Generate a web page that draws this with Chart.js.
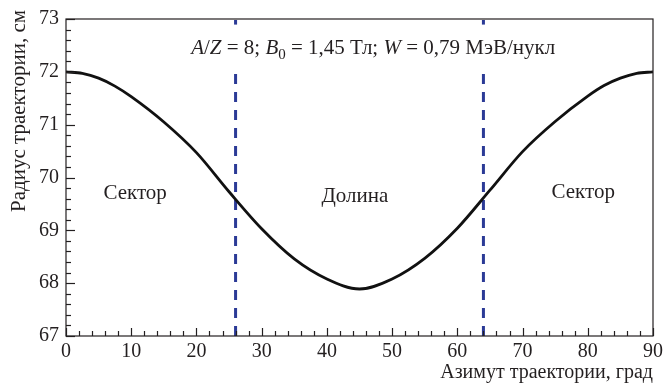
<!DOCTYPE html>
<html><head><meta charset="utf-8">
<script src="https://cdn.jsdelivr.net/npm/chart.js@4"></script>
<style>html,body{margin:0;padding:0;background:#fff}#w{width:665px;height:389px}</style>
</head><body><div id="w"><canvas id="c"></canvas></div>
<script>
const azimuth = [0,2.5,5,7.5,10,15,20,25,30,35,40,45,50,55,60,65,70,75,80,82.5,85,87.5,90];
const radius  = [72.00,71.97,71.88,71.73,71.53,71.05,70.47,69.73,69.03,68.46,68.08,67.89,68.08,68.47,69.04,69.76,70.49,71.06,71.54,71.74,71.88,71.97,72.00];
const boundaries = [26,64];
const xTicks = [0,10,20,30,40,50,60,70,80,90];
const yTicks = [67,68,69,70,71,72,73];
const regionLabels = [{x:10.6,y:69.7,t:'Сектор'},{x:44.3,y:69.64,t:'Долина'},{x:79.3,y:69.72,t:'Сектор'}];
const xTitle = 'Азимут траектории, град';
const yTitle = 'Радиус траектории, см';

const SERIF = '"Liberation Serif","DejaVu Serif",serif';
const ink = '#231f20';

const deco = {
  id:'deco',
  afterDatasetsDraw(ch){
    const {ctx, chartArea:a, scales:{x,y}} = ch;
    ctx.save();
    const F = 21;
    const parts = [
      ['A','italic '+F+'px '+SERIF,0],['/',F+'px '+SERIF,0],['Z','italic '+F+'px '+SERIF,0],[' = 8; ',F+'px '+SERIF,0],
      ['B','italic '+F+'px '+SERIF,0],['0','15px '+SERIF,6],[' = 1,45 Тл; ',F+'px '+SERIF,0],
      ['W','italic '+F+'px '+SERIF,0],[' = 0,79 МэВ/нукл',F+'px '+SERIF,0]
    ];
    let tw = 0;
    parts.forEach(p=>{ctx.font=p[1]; tw+=ctx.measureText(p[0]).width;});
    let cx = x.getPixelForValue(47.1) - tw/2;
    const cy = y.getPixelForValue(72.44);
    ctx.fillStyle = '#fff';
    ctx.fillRect(cx-4, cy-24, tw+8, 46);
    ctx.fillStyle = ink;
    ctx.textAlign='left'; ctx.textBaseline='middle';
    parts.forEach(p=>{ctx.font=p[1]; ctx.fillText(p[0],cx,cy+p[2]); cx+=ctx.measureText(p[0]).width;});

    ctx.strokeStyle = ink; ctx.lineWidth = 1.2;
    ctx.strokeRect(a.left, a.top, a.right-a.left, a.bottom-a.top);
    for(let v=0; v<=90; v+=2){
      const px = Math.round(x.getPixelForValue(v))+0.5;
      const L = v%10===0 ? 8 : 5;
      ctx.beginPath(); ctx.moveTo(px,a.bottom); ctx.lineTo(px,a.bottom-L); ctx.stroke();
    }
    for(let i=0;i<=30;i++){
      const v = 67 + i*0.2;
      const py = Math.round(y.getPixelForValue(v))+0.5;
      const L = i%5===0 ? 9 : 5;
      ctx.beginPath(); ctx.moveTo(a.left,py); ctx.lineTo(a.left+L,py); ctx.stroke();
    }
    ctx.font = '21px '+SERIF; ctx.textAlign='center'; ctx.textBaseline='middle';
    regionLabels.forEach(r=>ctx.fillText(r.t, x.getPixelForValue(r.x), y.getPixelForValue(r.y)));
    ctx.font = '20px '+SERIF; ctx.textAlign='right'; ctx.textBaseline='middle';
    ctx.fillText(xTitle, a.right, 373);
    ctx.save();
    ctx.translate(19, 111); ctx.rotate(-Math.PI/2);
    ctx.font = '21px '+SERIF; ctx.textAlign='center';
    ctx.fillText(yTitle, 0, 0);
    ctx.restore();
    ctx.restore();
  }
};

const datasets = [{
  data: azimuth.map((a,i)=>({x:a,y:radius[i]})),
  borderColor:'#111', borderWidth:2.8, pointRadius:0, cubicInterpolationMode:'monotone', fill:false, order:1
}];
boundaries.forEach(b=>datasets.push({
  data:[{x:b,y:67},{x:b,y:73}], borderColor:'#2b3a96', borderWidth:3, borderDash:[10,8], pointRadius:0, fill:false, order:2
}));

new Chart(document.getElementById('c'),{
  type:'line',
  data:{datasets},
  options:{
    responsive:true, maintainAspectRatio:false, animation:false,
    layout:{padding:{top:16,right:12,left:0,bottom:0}},
    plugins:{legend:{display:false},tooltip:{enabled:false}},
    scales:{
      x:{type:'linear',min:0,max:90,
        afterFit:s=>{s.height=53; s.paddingLeft=0; s.paddingRight=0;},
        afterBuildTicks:s=>{s.ticks=xTicks.map(v=>({value:v}));},
        grid:{display:false,drawTicks:false}, border:{display:false},
        ticks:{font:{family:SERIF,size:20},color:ink,padding:4,maxRotation:0}
      },
      y:{type:'linear',min:67,max:73,
        afterFit:s=>{s.width=66;},
        afterBuildTicks:s=>{s.ticks=yTicks.map(v=>({value:v}));},
        grid:{display:false,drawTicks:false}, border:{display:false},
        ticks:{font:{family:SERIF,size:20},color:ink,padding:7}
      }
    }
  },
  plugins:[deco]
});
</script></body></html>
